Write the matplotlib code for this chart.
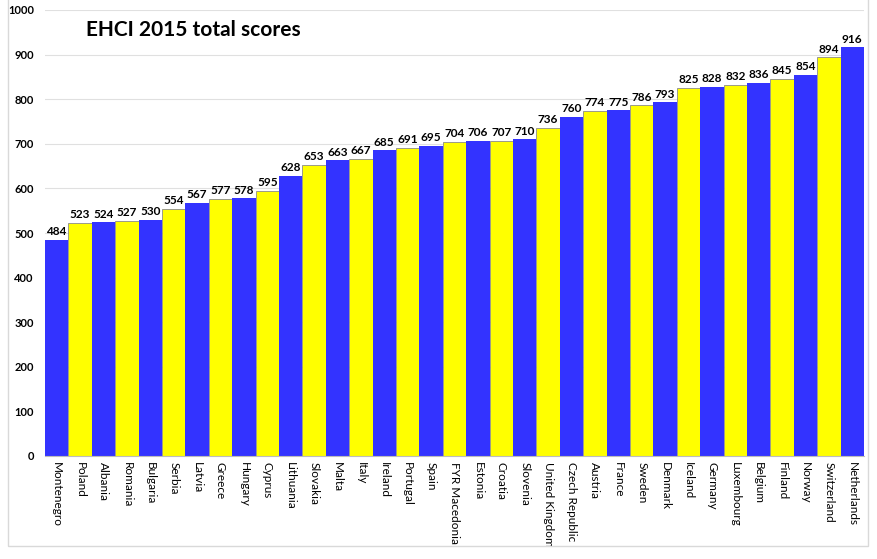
import numpy as np
import matplotlib as mpl
import matplotlib.pyplot as plt
from matplotlib.patches import Rectangle

mpl.rcParams['font.family'] = ['Lato', 'DejaVu Sans']

countries = ["Montenegro", "Poland", "Albania", "Romania", "Bulgaria", "Serbia", "Latvia",
             "Greece", "Hungary", "Cyprus", "Lithuania", "Slovakia", "Malta", "Italy",
             "Ireland", "Portugal", "Spain", "FYR Macedonia", "Estonia", "Croatia",
             "Slovenia", "United Kingdom", "Czech Republic", "Austria", "France", "Sweden",
             "Denmark", "Iceland", "Germany", "Luxembourg", "Belgium", "Finland", "Norway",
             "Switzerland", "Netherlands"]
scores = [484, 523, 524, 527, 530, 554, 567, 577, 578, 595, 628, 653, 663, 667, 685,
          691, 695, 704, 706, 707, 710, 736, 760, 774, 775, 786, 793, 825, 828, 832,
          836, 845, 854, 894, 916]

BLUE = '#3333FF'
YELLOW = '#FFFF00'

fig = plt.figure(figsize=(8.77, 5.59), dpi=100)
ax = fig.add_axes([45/877, 1 - 456/559, (864-45)/877, (456-10)/559])

x = np.arange(len(countries))
colors = [BLUE if i % 2 == 0 else YELLOW for i in x]
edges = ['none' if i % 2 == 0 else '#8a8a8a' for i in x]
bars = ax.bar(x, scores, width=1.0, color=colors, edgecolor=edges, linewidth=0.6, zorder=2)

for xi, s in zip(x, scores):
    ax.text(xi, s + 6, str(s), ha='center', va='bottom', fontsize=8.5, fontweight='bold', zorder=3)

ax.set_xlim(-0.5, len(countries) - 0.5)
ax.set_ylim(0, 1000)
ax.set_yticks(range(0, 1001, 100))
ax.set_yticklabels([str(v) for v in range(0, 1001, 100)], fontsize=8, fontweight='bold')
ax.set_xticks(x)
ax.set_xticklabels(countries, rotation=270, fontsize=8.5, va='top', ha='center')
ax.tick_params(axis='both', length=0, pad=8)
ax.tick_params(axis='x', pad=4)
ax.yaxis.grid(True, color='#e0e0e0', linewidth=0.8, zorder=0)
ax.set_axisbelow(True)
for sp in ['top', 'right', 'left']:
    ax.spines[sp].set_visible(False)
ax.spines['bottom'].set_color('#bdbdbd')
ax.spines['bottom'].set_zorder(3)

ax.text(0.05, 0.955, "EHCI 2015 total scores", transform=ax.transAxes, fontsize=15,
        fontweight='bold', ha='left', va='center')

fig.patches.append(Rectangle((8/877, 1 - 546/559), (868-8)/877, 546/559 + 0.01,
                             transform=fig.transFigure, fill=False, edgecolor='#d9d9d9',
                             linewidth=1.0))

fig.savefig('out.png', dpi=100)
